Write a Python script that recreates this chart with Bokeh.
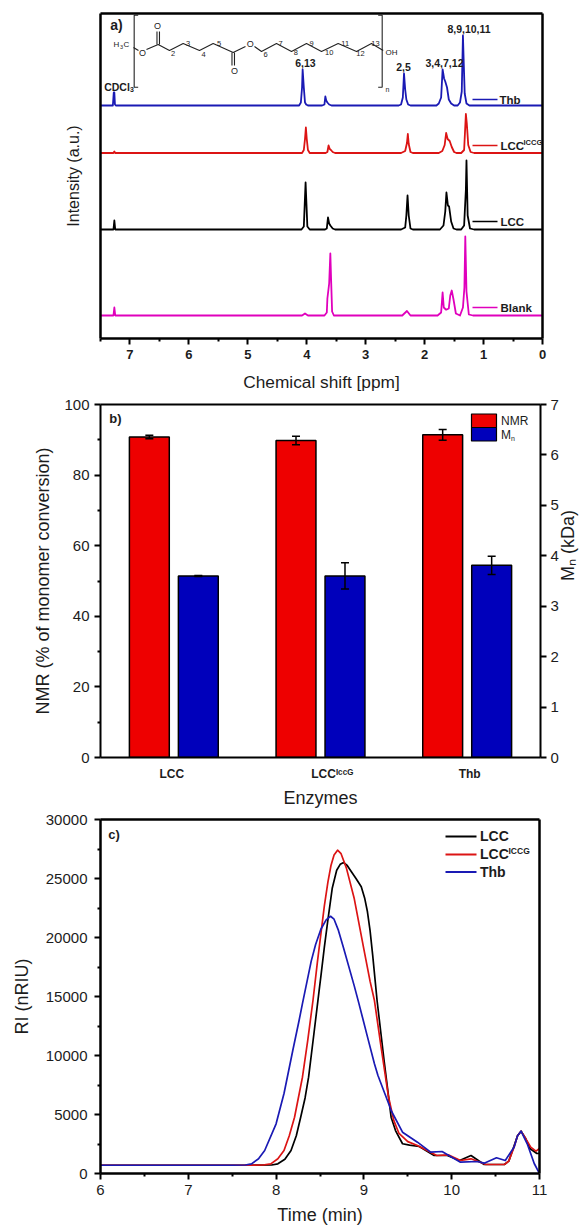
from math import pi
from bokeh.plotting import figure
from bokeh.layouts import column
from bokeh.models import (Range1d, LinearAxis, FixedTicker, Label, Whisker, TeeHead,
                          ColumnDataSource)
from bokeh.embed import file_html
from bokeh.resources import INLINE

FONT = "Liberation Sans"
INK = "#1c1c1c"
RED = "#dc1414"
BLUE = "#1a1ab4"
MAG = "#e000bc"

# ---------- panel a: 1H NMR spectra (ppm / height above own baseline) ----------
thb_ppm = [7.5,7.29,7.275,7.265,7.255,7.24,4.13,4.10,4.08,4.07,4.05,4.03,4.01,3.98,3.74,3.70,3.685,3.67,3.65,3.62,3.58,
           2.44,2.40,2.37,2.35,2.33,2.31,2.28,2.24,1.80,1.76,1.72,1.695,1.67,1.65,1.62,1.59,1.55,1.50,1.44,1.40,1.37,1.35,1.335,1.32,1.29,1.24,0]
thb_h = [0,0,13,13,1,0,0,3,18,36,18,3,1,0,0,1,9,5,3,1,0,
         0,1,8,32,16,6,1,0,0,2,8,36,27,24,18,6,2,0,0,3,14,70,40,12,2,0,0]
iccg_ppm = [7.5,7.28,7.265,7.25,4.08,4.05,4.03,4.015,4.0,3.98,3.95,3.68,3.65,3.63,3.61,3.59,3.56,3.52,
            2.40,2.33,2.30,2.285,2.27,2.24,2.20,1.76,1.70,1.66,1.635,1.61,1.575,1.54,1.50,1.46,1.38,1.33,1.30,1.285,1.26,1.22,1.16,0]
iccg_h = [0,0,1.5,0,0,3,14,25.5,14,3,0,0,1,7.5,4,3,1,0,
          0,2,10,19,9,1,0,0,2,8,20,14,12,6,1,0,0,3,39,30,8,1,0,0]
lcc_ppm = [7.5,7.28,7.265,7.25,4.09,4.05,4.035,4.02,4.005,3.99,3.95,3.69,3.66,3.64,3.62,3.60,3.56,3.52,
           2.40,2.33,2.31,2.29,2.27,2.24,2.20,1.74,1.68,1.65,1.63,1.605,1.585,1.55,1.51,1.46,1.38,1.33,1.30,1.29,1.27,1.23,1.16,0]
lcc_h = [0,0,9,0,0,3,25,47,25,3,0,0,1,12,6,4,1,0,
         0,2,14,34,14,1,0,0,4,18,37,24,23,8,1,0,0,4,40,69,14,1,0,0]
blank_ppm = [7.5,7.28,7.265,7.25,4.08,4.03,3.98,3.70,3.66,3.65,3.62,3.60,3.585,3.57,3.54,2.38,2.30,2.24,
             1.78,1.72,1.695,1.675,1.64,1.625,1.59,1.565,1.54,1.51,1.47,1.40,1.35,1.325,1.31,1.29,1.25,1.18,0]
blank_h = [0,0,8,0,0,2,0,0,3,17,32,62,32,4,0,0,4.5,0,
           0,3,23,8,6,6,7,20,25,16,2,0,8,28,79,24,1,0,0]
base_a = [233, 185.5, 109, 23]
xticks_a = [0, 1, 2, 3, 4, 5, 6, 7]

# ---------- panel b: conversion and molar mass ----------
enzymes = ["LCC", "LCC\u1d35\u1d9c\u1d9c\u1d33", "Thb"]
enzyme_label_pos = [0.986, 2.08, 3.017]
nmr_vals = [90.8, 89.8, 91.4]
nmr_errs = [0.5, 1.2, 1.5]
mn_vals = [3.6, 3.6, 3.81]
mn_errs = [0.01, 0.26, 0.18]
ticks_b_left = [0, 20, 40, 60, 80, 100]
minor_b_left = [10, 30, 50, 70, 90]
ticks_b_right = [0, 1, 2, 3, 4, 5, 6, 7]

# ---------- panel c: SEC traces ----------
lcc_t = [6,7,7.7,7.95,8.02,8.10,8.17,8.23,8.28,8.33,8.37,8.43,8.49,8.51,8.55,8.59,8.64,8.69,8.73,8.77,8.81,8.85,8.91,8.97,9.01,9.04,9.07,9.10,9.15,9.23,9.31,9.36,9.44,9.52,9.63,9.8,9.95,10.09,10.22,10.37,10.6,10.65,10.7,10.75,10.79,10.84,10.89,10.97,11]
lcc_ri = [700,700,700,720,820,1200,1950,3200,4770,6400,8160,11800,15500,16700,19200,21500,24200,25700,26200,26350,26100,25650,25000,24300,23300,22200,20600,18500,14660,9577,4770,3640,2520,2400,2290,1525,1525,1100,1525,763,763,1050,2120,3200,3585,3000,2120,1695,1700]
iccg_t = [6,7,7.6,7.85,7.94,8.02,8.09,8.15,8.21,8.3,8.36,8.42,8.47,8.55,8.59,8.625,8.66,8.70,8.74,8.80,8.89,9.0,9.07,9.12,9.19,9.28,9.34,9.4,9.5,9.61,9.83,9.96,10.1,10.22,10.39,10.6,10.65,10.71,10.75,10.79,10.84,10.9,10.96,11]
iccg_ri = [700,700,700,720,820,1250,1950,3200,4770,8160,11270,14660,17900,22700,24700,26100,27000,27400,27100,25900,23300,19000,16300,14660,11000,6500,4500,3390,2700,2373,1525,1580,1100,1245,763,763,1050,2230,3200,3585,3000,2230,1890,2120]
thb_t = [6,7,7.5,7.65,7.72,7.80,7.87,8.0,8.09,8.19,8.26,8.30,8.40,8.45,8.51,8.57,8.62,8.66,8.71,8.77,8.89,8.94,8.985,9.04,9.12,9.16,9.29,9.31,9.44,9.61,9.76,9.89,10.10,10.29,10.37,10.51,10.61,10.71,10.75,10.79,10.86,10.94,11]
thb_ri = [700,700,700,720,820,1250,1950,4210,6780,10424,12900,14400,18000,19400,20700,21500,21800,21550,20600,19060,15900,14500,13200,11600,9296,8300,5763,5340,3500,2655,1808,1865,960,1017,873,1330,1100,2230,3200,3585,2517,847,0]
xticks_c = [6, 7, 8, 9, 10, 11]
minor_c_x = [6.5, 7.5, 8.5, 9.5, 10.5]
yticks_c = [0, 5000, 10000, 15000, 20000, 25000, 30000]
minor_c_y = [2500, 7500, 12500, 17500, 22500, 27500]


def style_axis(ax, size="15px", style="normal", lw=2.5):
    ax.axis_line_width = lw
    ax.axis_line_color = "black"
    ax.major_tick_line_width = 2
    ax.minor_tick_line_width = 2
    ax.major_tick_line_color = "black"
    ax.minor_tick_line_color = "black"
    ax.major_tick_out = 6
    ax.major_tick_in = 0
    ax.minor_tick_out = 3
    ax.minor_tick_in = 0
    ax.major_label_text_font = FONT
    ax.major_label_text_font_size = size
    ax.major_label_text_font_style = style
    ax.major_label_text_color = INK
    ax.axis_label_text_font = FONT
    ax.axis_label_text_font_size = "18px"
    ax.axis_label_text_font_style = "normal"
    ax.axis_label_text_color = INK


def bare_axis(p, side, lw=2.5, **kw):
    ax = LinearAxis(ticker=FixedTicker(ticks=[]), major_label_text_font_size="0px", **kw)
    ax.axis_line_width = lw
    ax.axis_line_color = "black"
    ax.major_tick_line_color = None
    ax.minor_tick_line_color = None
    p.add_layout(ax, side)
    return ax


def make_fig(h, left, right, top, bottom, xr, yr):
    p = figure(width=585, height=h, min_border_left=left, min_border_right=right,
               min_border_top=top, min_border_bottom=bottom,
               frame_width=585 - left - right, frame_height=h - top - bottom,
               x_range=xr, y_range=yr, output_backend="svg", toolbar_location=None)
    p.grid.visible = False
    p.outline_line_color = None
    p.background_fill_color = "white"
    p.border_fill_color = "white"
    return p


# ================= panel a =================
a = make_fig(395, 99, 44, 13, 57, Range1d(7.5, 0), Range1d(0, 325))
XA = lambda px: (541 - px) / 58.93
YA = lambda py: 338 - py


def tx(p, x, y, s, size=12, bold=True, align="center", angle=0, color=INK, base="middle", **kw):
    p.add_layout(Label(x=x, y=y, text=s, text_font=FONT, text_font_size=f"{size}px",
                       text_font_style="bold" if bold else "normal", text_align=align,
                       text_baseline=base, text_color=color, angle=angle, angle_units="rad", **kw))


ax = a.xaxis[0]
style_axis(ax, size="13px", style="bold")
ax.ticker = FixedTicker(ticks=xticks_a, minor_ticks=[0.5, 1.5, 2.5, 3.5, 4.5, 5.5, 6.5, 7.5])
ax.axis_label = "Chemical shift [ppm]"
ax.axis_label_text_font_size = "17.3px"
ax.axis_label_standoff = 10
ay = a.yaxis[0]
style_axis(ay)
ay.ticker = FixedTicker(ticks=[])
ay.major_label_text_font_size = "0px"
ay.axis_label = "Intensity (a.u.)"
ay.axis_label_text_font_size = "16px"
ay.axis_label_standoff = 19
bare_axis(a, "above")
bare_axis(a, "right")

series_a = [(thb_ppm, thb_h, BLUE), (iccg_ppm, iccg_h, RED), (lcc_ppm, lcc_h, "black"), (blank_ppm, blank_h, MAG)]
for (xs, hs, col), b0 in zip(series_a, base_a):
    a.line(xs, [b0 + h for h in hs], line_color=col, line_width=1.8, line_join="round")

for col, py, name, px_text in [(BLUE, 99, "Thb", 498), (RED, 145, "LCC", 499), ("black", 221, "LCC", 499), (MAG, 307, "Blank", 499)]:
    a.line([XA(471), XA(496)], [YA(py), YA(py)], line_color=col, line_width=1.6)
    tx(a, XA(px_text), YA(py), name, 11.5, True, "left")
tx(a, XA(522), YA(142), "ICCG", 7.5, True, "left")

tx(a, XA(115), YA(24), "a)", 14)
tx(a, XA(115.5), YA(86), "CDCl", 10.5, True)
tx(a, XA(130.5), YA(89), "3", 7, True)
tx(a, XA(304), YA(62.5), "6,13", 10.5)
tx(a, XA(402), YA(66), "2,5", 10.5)
tx(a, XA(443), YA(62), "3,4,7,12", 10.5)
tx(a, XA(467.5), YA(28), "8,9,10,11", 10.5)

# chemical structure drawn as a page decoration (page-pixel outline)
bond_lines = [
    [(136.7,14.7),(132.7,14.7),(132.7,86.7),(136.7,86.7)],
    [(376.7,14.7),(380.7,14.7),(380.7,86.7),(376.7,86.7)],
    [(132,47),(137,50)],
    [(145,49),(156.7,44),(168,50),(181.7,43),(198,50),(211.7,43),(231.7,52),(244,46)],
    [(155.5,44),(155.5,31)], [(158,44),(158,31)],
    [(230.5,52),(230.5,65)], [(233,52),(233,65)],
    [(253,46),(260,51),(275,43),(290,51),(305,43),(320,51),(336.7,43),(355,51),(370,43),(381.7,50)],
]
a.multi_line([[XA(q[0]) for q in l] for l in bond_lines], [[YA(q[1]) for q in l] for l in bond_lines],
             line_color="#222222", line_width=1.1)
for px, py, s, sz in [(141,52,"O",9),(156,25.5,"O",9),(233,70,"O",9),(248.7,43.7,"O",9),
                      (390,52,"OH",8),(386,89,"n",7),
                      (171.7,53,"2",7.5),(186.7,42.7,"3",7.5),(202,54,"4",7.5),(217.7,43,"5",7.5),
                      (264,53.7,"6",7.5),(279,42.7,"7",7.5),(294.3,52,"8",7.5),(310,42.7,"9",7.5),
                      (327.7,52,"10",7.5),(343.7,43,"11",7.5),(359,52.7,"12",7.5),(374,43,"13",7.5)]:
    tx(a, XA(px), YA(py), s, sz, False)
tx(a, XA(115), YA(44), "H", 8, False)
tx(a, XA(120), YA(46), "3", 5.5, False)
tx(a, XA(125), YA(44), "C", 8, False)

# ================= panel b =================
b = make_fig(415, 100, 45, 9, 53, Range1d(0.5, 3.5), Range1d(0, 100))
b.extra_y_ranges = {"mn": Range1d(0, 7)}
XB = lambda px: 0.5 + (px - 100) / 146.67
YB = lambda py: (757 - py) / 3.53

offs = 0.167
wid = 0.272
idx = [1, 2, 3]
b.vbar(x=[i - offs for i in idx], top=nmr_vals, width=wid, fill_color="#ee0000", line_color="black", line_width=1.5)
b.vbar(x=[i + offs for i in idx], top=mn_vals, width=wid, fill_color="#0000bb", line_color="black",
       line_width=1.5, y_range_name="mn")
src1 = ColumnDataSource(dict(x=[i - offs for i in idx], lo=[v - e for v, e in zip(nmr_vals, nmr_errs)],
                             hi=[v + e for v, e in zip(nmr_vals, nmr_errs)]))
src2 = ColumnDataSource(dict(x=[i + offs for i in idx], lo=[v - e for v, e in zip(mn_vals, mn_errs)],
                             hi=[v + e for v, e in zip(mn_vals, mn_errs)]))
for src, rng in [(src1, "default"), (src2, "mn")]:
    b.add_layout(Whisker(source=src, base="x", lower="lo", upper="hi", y_range_name=rng, line_color="black",
                         line_width=1.5, level="overlay",
                         upper_head=TeeHead(size=8, line_width=1.5, line_color="black"),
                         lower_head=TeeHead(size=8, line_width=1.5, line_color="black")))

bx = b.xaxis[0]
style_axis(bx, size="12px", style="bold", lw=2)
bx.ticker = FixedTicker(ticks=enzyme_label_pos)
bx.major_label_overrides = {i: n for i, n in zip(enzyme_label_pos, enzymes)}
bx.major_tick_out = 0
bx.major_label_standoff = 9
bx.axis_label = "Enzymes"
bx.axis_label_standoff = 4
by = b.yaxis[0]
style_axis(by, lw=2)
by.ticker = FixedTicker(ticks=ticks_b_left, minor_ticks=minor_b_left)
by.axis_label = "NMR (% of monomer conversion)"
by.axis_label_standoff = 8
br = LinearAxis(y_range_name="mn")
style_axis(br, lw=2)
br.ticker = FixedTicker(ticks=ticks_b_right)
br.major_label_standoff = 4
br.axis_label = "M\u2099 (kDa)"
br.axis_label_standoff = 6
br.axis_label_orientation = pi / 2
b.add_layout(br, "right")
bare_axis(b, "above", lw=2)

b.quad(left=[XB(471)], right=[XB(496)], bottom=[YB(427)], top=[YB(413.5)], fill_color="#ee0000", line_color="black", line_width=1.2)
b.quad(left=[XB(471)], right=[XB(496)], bottom=[YB(440.5)], top=[YB(427)], fill_color="#0000bb", line_color="black", line_width=1.2)
tx(b, XB(500.5), YB(420), "NMR", 12, False, "left")
tx(b, XB(500.5), YB(434), "M", 12, False, "left")
tx(b, XB(510.5), YB(438), "n", 7, False, "left")
tx(b, XB(115), YB(417.5), "b)", 13)

# ================= panel c =================
c = make_fig(417, 100, 46, 9, 54, Range1d(6, 11), Range1d(0, 30000))
XC = lambda px: 6 + (px - 100) / 87.8
YC = lambda py: (1173 - py) * 84.75

cx = c.xaxis[0]
style_axis(cx)
cx.ticker = FixedTicker(ticks=xticks_c, minor_ticks=minor_c_x)
cx.axis_label = "Time (min)"
cx.axis_label_standoff = 7
cy = c.yaxis[0]
style_axis(cy)
cy.ticker = FixedTicker(ticks=yticks_c, minor_ticks=minor_c_y)
cy.major_label_standoff = 7
cy.axis_label = "RI (nRIU)"
cy.axis_label_standoff = 11
bare_axis(c, "above")
bare_axis(c, "right")

c.line(lcc_t, lcc_ri, line_color="black", line_width=1.7, line_join="round")
c.line(iccg_t, iccg_ri, line_color=RED, line_width=1.7, line_join="round")
c.line(thb_t, thb_ri, line_color=BLUE, line_width=1.7, line_join="round")

for col, py, name in [("black", 836, "LCC"), (RED, 854, "LCC"), (BLUE, 871.5, "Thb")]:
    c.line([XC(445), XC(476)], [YC(py), YC(py)], line_color=col, line_width=2)
    tx(c, XC(479.5), YC(py), name, 14, True, "left")
tx(c, XC(508), YC(851), "ICCG", 8.5, True, "left")
tx(c, XC(113.5), YC(834), "c)", 13)

open("out.html", "w").write(file_html(column(a, b, c, spacing=0), INLINE))
